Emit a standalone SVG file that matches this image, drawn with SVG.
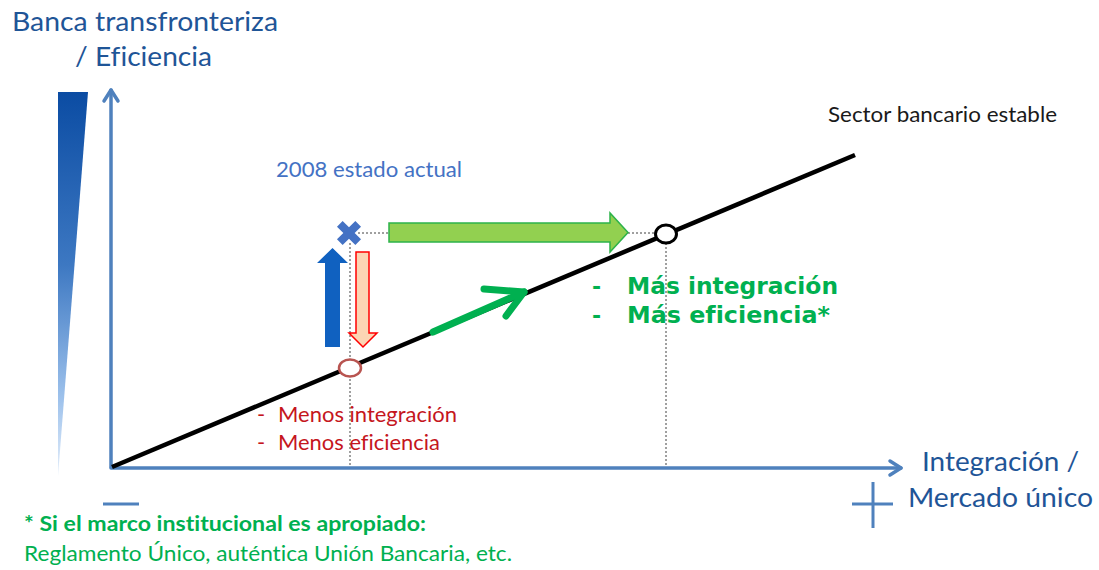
<svg xmlns="http://www.w3.org/2000/svg" width="1099" height="570" viewBox="0 0 1099 570">
<style>
text{font-variant-ligatures:none}
.cal{font-family:Lato,"Open Sans","Liberation Sans",sans-serif}
.ver{font-family:"DejaVu Sans",Verdana,sans-serif;font-weight:bold}
.blue{fill:#1f5597}
.grn{fill:#00b050}
.red{fill:#c5161d}
.axis{stroke:#4f81bd;stroke-width:3.5;fill:none;stroke-linecap:round;stroke-linejoin:round}
.dot{stroke:#404040;stroke-width:1;stroke-dasharray:2 2;fill:none}
</style>
<defs>
<linearGradient id="barg" x1="0" y1="0" x2="0" y2="1">
<stop offset="0" stop-color="#0b4ca3"/>
<stop offset="0.45" stop-color="#3d78c2"/>
<stop offset="0.8" stop-color="#9ec2ec"/>
<stop offset="1" stop-color="#e4eefa"/>
</linearGradient>
</defs>
<rect width="1099" height="570" fill="#ffffff"/>

<g id="title">
<text class="cal blue" x="12" y="31" font-size="27.5" textLength="266" lengthAdjust="spacingAndGlyphs">Banca transfronteriza</text>
<text class="cal blue" x="75" y="66" font-size="27.5" textLength="137" lengthAdjust="spacingAndGlyphs">/ Eficiencia</text>
</g>

<g id="gradient-bar">
<polygon points="58,92 88,92 58,476" fill="url(#barg)"/>
</g>

<g id="axes">
<polyline class="axis" points="111,467 111,90"/>
<polyline class="axis" points="104,101 111,90 118,101"/>
<polyline class="axis" points="111,468 901,468"/>
<polyline class="axis" points="890,461 901,468 890,475"/>
<line x1="103" y1="504" x2="139" y2="504" stroke="#4f81bd" stroke-width="3"/>
<line x1="852" y1="504" x2="893" y2="504" stroke="#4f81bd" stroke-width="3"/>
<line x1="873" y1="482" x2="873" y2="528" stroke="#4f81bd" stroke-width="3"/>
</g>

<g id="connectors">
<line id="main-line" x1="112" y1="467" x2="855" y2="155" stroke="#000" stroke-width="4.5"/>
<line class="dot" x1="358" y1="233" x2="389" y2="233"/>
<line class="dot" x1="628" y1="233" x2="656" y2="233"/>
<line class="dot" x1="350" y1="243" x2="350" y2="467"/>
<line class="dot" x1="666" y1="243" x2="666" y2="467"/>
<g id="green-trend-arrow" stroke="#00b050" stroke-width="7" fill="none" stroke-linecap="round" stroke-linejoin="round">
<line x1="433" y1="332" x2="524" y2="292"/>
<polyline points="484,289 524,292 506,316"/>
</g>
<polygon id="blue-up-arrow" points="325,347 340,347 340,263 348,263 332.5,248 317,263 325,263" fill="#1061c0"/>
<polygon id="red-down-arrow" points="356,252 369,252 369,333 377,333 363,347 349,333 356,333" fill="#fcd5b4" stroke="#ff0000" stroke-width="1.5"/>
<polygon id="green-big-arrow" points="389,223 610,223 610,213 628,232.5 610,252 610,242 389,242" fill="#92d050" stroke="#2db34a" stroke-width="1.5"/>
</g>

<g id="node-current">
<polygon transform="translate(349,233) rotate(45)" points="-4,-13 4,-13 4,-4 13,-4 13,4 4,4 4,13 -4,13 -4,4 -13,4 -13,-4 -4,-4" fill="#4472c4"/>
<text class="cal" x="276" y="177" font-size="21" fill="#4472c4" textLength="186" lengthAdjust="spacingAndGlyphs">2008 estado actual</text>
</g>

<g id="node-low">
<ellipse cx="350" cy="368" rx="11" ry="8.5" fill="#fff" stroke="#b85450" stroke-width="2.5"/>
<text class="cal red" x="257" y="422" font-size="22">-</text>
<text class="cal red" x="278" y="422" font-size="22" textLength="179" lengthAdjust="spacingAndGlyphs">Menos integración</text>
<text class="cal red" x="257" y="450" font-size="22">-</text>
<text class="cal red" x="278" y="450" font-size="22" textLength="162" lengthAdjust="spacingAndGlyphs">Menos eficiencia</text>
</g>

<g id="node-high">
<ellipse cx="666" cy="234" rx="10.5" ry="9" fill="#fff" stroke="#000" stroke-width="3"/>
<text class="ver grn" x="592" y="294" font-size="22">-</text>
<text class="ver grn" x="627" y="294" font-size="23" textLength="211" lengthAdjust="spacingAndGlyphs">Más integración</text>
<text class="ver grn" x="592" y="323" font-size="22">-</text>
<text class="ver grn" x="627" y="323" font-size="23" textLength="203" lengthAdjust="spacingAndGlyphs">Más eficiencia*</text>
</g>

<g id="node-stable">
<text class="cal" x="828" y="122" font-size="21" fill="#1a1a1a" textLength="229" lengthAdjust="spacingAndGlyphs">Sector bancario estable</text>
</g>

<g id="x-label">
<text class="cal blue" x="922" y="471" font-size="27.5" textLength="157" lengthAdjust="spacingAndGlyphs">Integración /</text>
<text class="cal blue" x="908" y="507" font-size="27.5" textLength="185" lengthAdjust="spacingAndGlyphs">Mercado único</text>
</g>

<g id="footnote">
<text class="cal grn" x="24" y="531" font-size="20.5" font-weight="bold" textLength="402" lengthAdjust="spacingAndGlyphs">* Si el marco institucional es apropiado:</text>
<text class="cal grn" x="24" y="561" font-size="20.5" textLength="488" lengthAdjust="spacingAndGlyphs">Reglamento Único, auténtica Unión Bancaria, etc.</text>
</g>
</svg>
